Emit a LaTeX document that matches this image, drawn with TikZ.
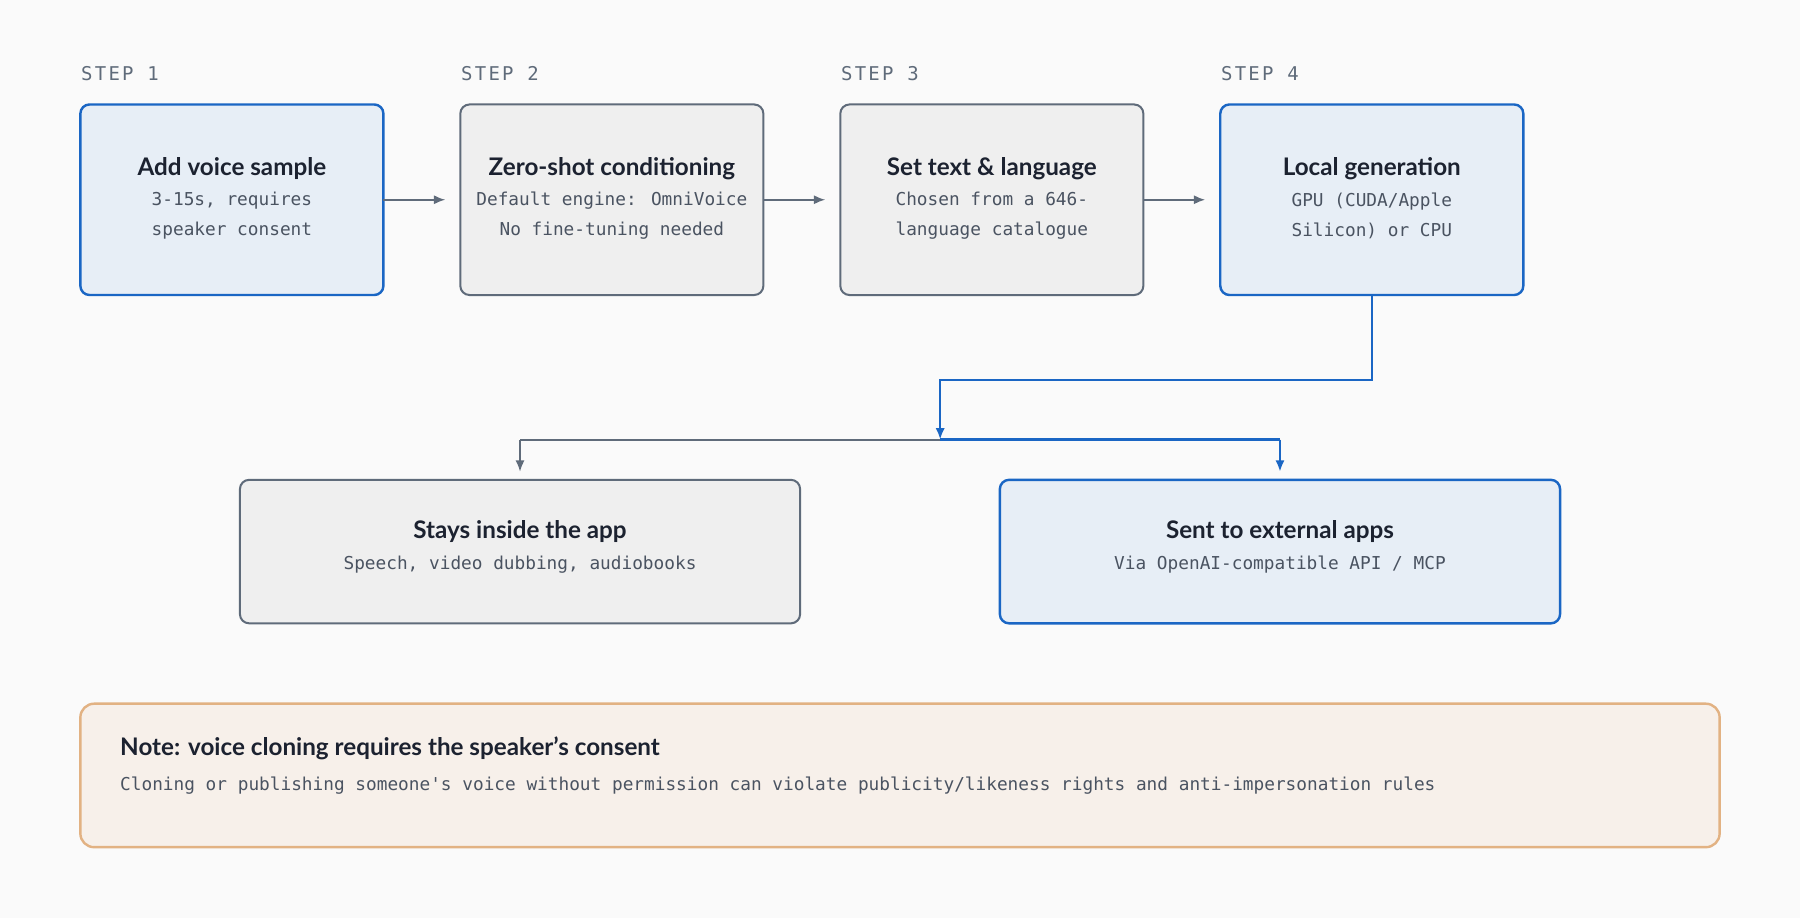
\documentclass[tikz,border=0pt]{standalone}
\usepackage{fontspec}
\setmainfont{Lato}
\newfontfamily\codefont{DejaVu Sans Mono}
\newfontfamily\stepfont[LetterSpace=12]{DejaVu Sans Mono}
\usetikzlibrary{arrows.meta}
\definecolor{bgc}{HTML}{FAFAFA}
\definecolor{bluefill}{HTML}{E7EEF6}
\definecolor{bluedraw}{HTML}{1A66C4}
\definecolor{grayfill}{HTML}{EFEFEF}
\definecolor{graydraw}{HTML}{5F6B7A}
\definecolor{notefill}{HTML}{F7F0EA}
\definecolor{notedraw}{HTML}{E2B283}
\definecolor{titlec}{HTML}{1C2230}
\definecolor{subc}{HTML}{4A5361}
\begin{document}
\begin{tikzpicture}[x=0.01cm,y=-0.01cm,
  bluebox/.style={draw=bluedraw,fill=bluefill,rounded corners=0.08cm,line width=0.6pt},
  graybox/.style={draw=graydraw,fill=grayfill,rounded corners=0.08cm,line width=0.5pt},
  steplabel/.style={anchor=west,inner sep=0pt,text=graydraw,font=\stepfont\fontsize{4.7}{5}\selectfont},
  title/.style={text=titlec,font=\bfseries\fontsize{6}{7}\selectfont},
  sub/.style={text=subc,font=\codefont\fontsize{4.4}{7.5}\selectfont,align=center},
  grayarrow/.style={-{Latex[length=0.1cm,width=0.08cm]},graydraw,line width=0.5pt},
  bluearrow/.style={-{Latex[length=0.1cm,width=0.08cm]},bluedraw,line width=0.6pt}]
\fill[bgc] (0,0) rectangle (1568,800);
\useasboundingbox (0,0) rectangle (1568,800);

% Steps
\node[steplabel] (s1) at (70,64) {STEP 1};
\node[steplabel] (s2) at (401,64) {STEP 2};
\node[steplabel] (s3) at (732,64) {STEP 3};
\node[steplabel] (s4) at (1063,64) {STEP 4};

\draw[bluebox] (70,91) rectangle (334,257);
\draw[graybox] (401,91) rectangle (665,257);
\draw[graybox] (732,91) rectangle (996,257);
\draw[bluebox] (1063,91) rectangle (1327,257);

\node[title] (t1) at (202,147) {Add voice sample};
\node[sub] (d1) at (202,188) {3-15s, requires\\speaker consent};
\node[title] (t2) at (533,147) {Zero-shot conditioning};
\node[sub] (d2) at (533,188) {Default engine: OmniVoice\\No fine-tuning needed};
\node[title] (t3) at (864,147) {Set text \& language};
\node[sub] (d3) at (864,188) {Chosen from a 646-\\language catalogue};
\node[title] (t4) at (1195,147) {Local generation};
\node[sub] (d4) at (1195,188) {GPU (CUDA/Apple\\Silicon) or CPU};

\coordinate (a1) at (334,174); \coordinate (b1) at (388,174);
\coordinate (a2) at (665,174); \coordinate (b2) at (719,174);
\coordinate (a3) at (996,174); \coordinate (b3) at (1050,174);
\draw[grayarrow] (a1) -- (b1);
\draw[grayarrow] (a2) -- (b2);
\draw[grayarrow] (a3) -- (b3);

% Outputs
\draw[graybox] (209,418) rectangle (697,543);
\draw[bluebox] (871,418) rectangle (1359,543);
\node[title] (t5) at (453,463) {Stays inside the app};
\node[sub] (d5) at (453,492) {Speech, video dubbing, audiobooks};
\node[title] (t6) at (1115,463) {Sent to external apps};
\node[sub] (d6) at (1115,492) {Via OpenAI-compatible API / MCP};

\coordinate (g4) at (1195,257);
\coordinate (split) at (819,383);
\draw[bluearrow] (g4) -- (1195,331) -- (819,331) -- (split);
\draw[graydraw,line width=0.5pt] (453,383) -- (split);
\draw[bluedraw,line width=0.6pt] (split) -- (1115,383);
\draw[grayarrow] (453,383) -- (453,411);
\draw[bluearrow] (1115,383) -- (1115,411);

% Note
\draw[draw=notedraw,fill=notefill,rounded corners=0.12cm,line width=0.6pt] (70,613) rectangle (1498,738);
\node[title,anchor=west,inner sep=0pt] (nt) at (104,652) {Note: voice cloning requires the speaker\symbol{39}s consent};
\node[sub,anchor=west,inner sep=0pt] (nd) at (104,684) {Cloning or publishing someone's voice without permission can violate publicity/likeness rights and anti-impersonation rules};
\end{tikzpicture}
\end{document}
